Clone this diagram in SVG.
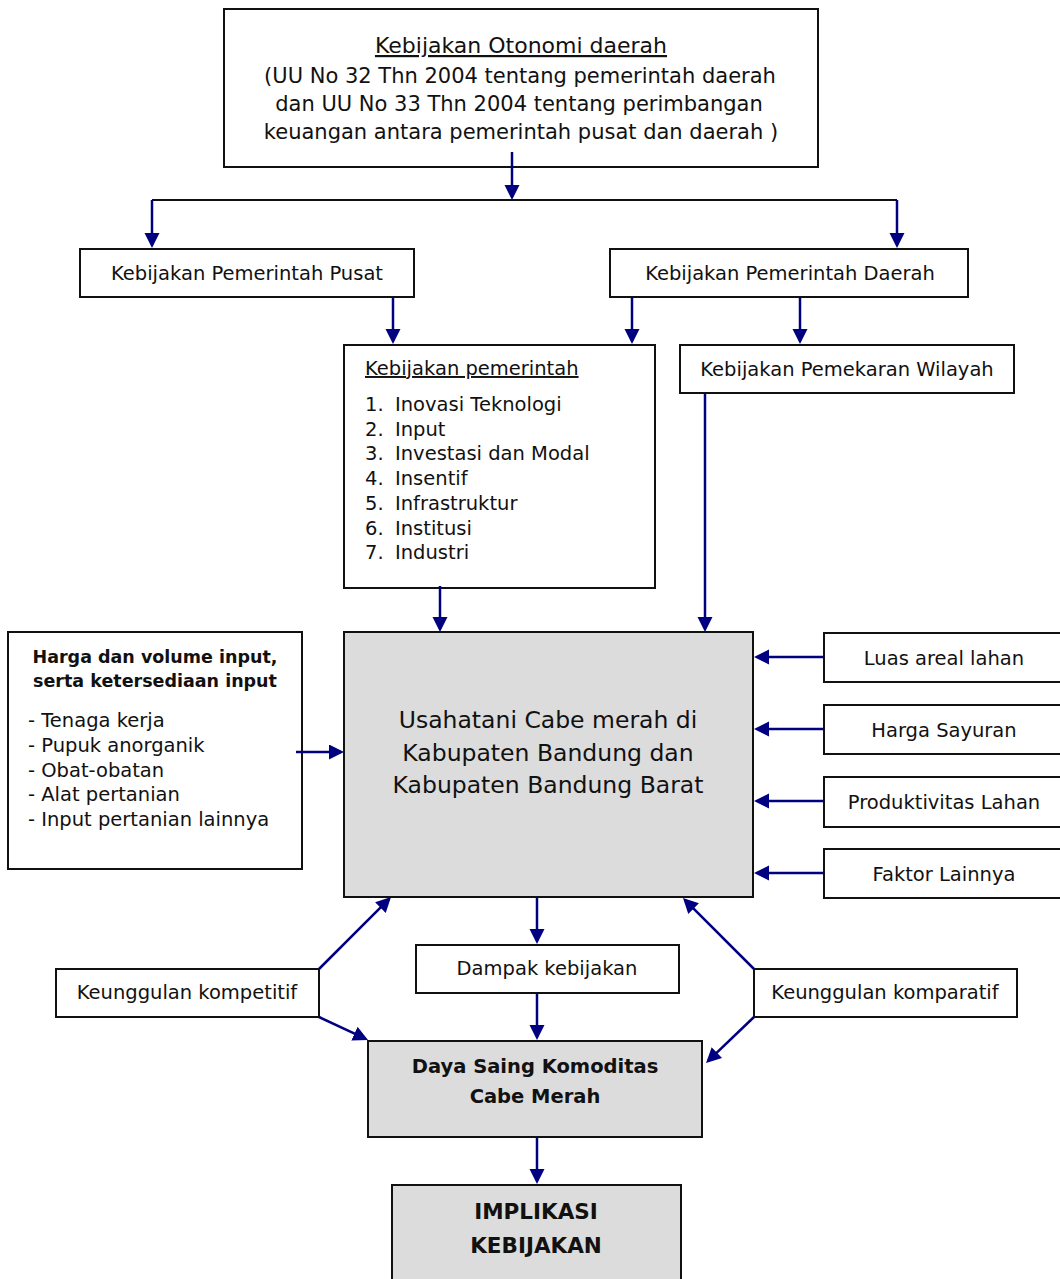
<svg xmlns="http://www.w3.org/2000/svg" width="1060" height="1279" viewBox="0 0 1060 1279">
<style>
.box{fill:#ffffff;stroke:#111;stroke-width:2}
.gbox{fill:#dcdcdc;stroke:#111;stroke-width:2}
.t{font-family:"DejaVu Sans","Liberation Sans",sans-serif;font-size:19.5px;fill:#111}
.c{text-anchor:middle}
.b{font-weight:bold}
.u{text-decoration:underline}
.arr{stroke:#000080;stroke-width:2.5;fill:none;marker-end:url(#ah)}
.bar{stroke:#111;stroke-width:2;fill:none}
</style>
<defs>
<marker id="ah" markerUnits="userSpaceOnUse" markerWidth="16" markerHeight="16" refX="12" refY="7.5" orient="auto">
<path d="M0,0 L15,7.5 L0,15 z" fill="#000080"/>
</marker>
</defs>
<rect width="1060" height="1279" fill="#ffffff"/>

<g id="otonomi">
<rect class="box" x="224" y="9" width="594" height="158"/>
<text class="t c u" x="521" y="53" style="font-size:22px">Kebijakan Otonomi daerah</text>
<text class="t c" x="520" y="83" style="font-size:21px">(UU No 32 Thn 2004 tentang pemerintah daerah</text>
<text class="t c" x="519" y="111" style="font-size:21px">dan UU No 33 Thn 2004 tentang perimbangan</text>
<text class="t c" x="521" y="139" style="font-size:21px">keuangan antara pemerintah pusat dan daerah )</text>
</g>

<g id="pusat">
<rect class="box" x="80" y="249" width="334" height="48"/>
<text class="t c" x="247" y="280">Kebijakan Pemerintah Pusat</text>
</g>

<g id="daerah">
<rect class="box" x="610" y="249" width="358" height="48"/>
<text class="t c" x="790" y="280">Kebijakan Pemerintah Daerah</text>
</g>

<g id="kebijakan-pemerintah">
<rect class="box" x="344" y="345" width="311" height="243"/>
<text class="t u" x="365" y="375">Kebijakan pemerintah</text>
<text class="t" x="365" y="411">1.</text><text class="t" x="395" y="411">Inovasi Teknologi</text>
<text class="t" x="365" y="436">2.</text><text class="t" x="395" y="436">Input</text>
<text class="t" x="365" y="460">3.</text><text class="t" x="395" y="460">Investasi dan Modal</text>
<text class="t" x="365" y="485">4.</text><text class="t" x="395" y="485">Insentif</text>
<text class="t" x="365" y="510">5.</text><text class="t" x="395" y="510">Infrastruktur</text>
<text class="t" x="365" y="535">6.</text><text class="t" x="395" y="535">Institusi</text>
<text class="t" x="365" y="559">7.</text><text class="t" x="395" y="559">Industri</text>
</g>

<g id="pemekaran">
<rect class="box" x="680" y="345" width="334" height="48"/>
<text class="t c" x="847" y="376">Kebijakan Pemekaran Wilayah</text>
</g>

<g id="input">
<rect class="box" x="8" y="632" width="294" height="237"/>
<text class="t c b" x="155" y="663" style="font-size:17.5px">Harga dan volume input,</text>
<text class="t c b" x="155" y="687" style="font-size:17.5px">serta ketersediaan input</text>
<text class="t" x="28" y="727">- Tenaga kerja</text>
<text class="t" x="28" y="752">- Pupuk anorganik</text>
<text class="t" x="28" y="777">- Obat-obatan</text>
<text class="t" x="28" y="801">- Alat pertanian</text>
<text class="t" x="28" y="826">- Input pertanian lainnya</text>
</g>

<g id="usahatani">
<rect class="gbox" x="344" y="632" width="409" height="265"/>
<text class="t c" x="548" y="728" style="font-size:23.5px">Usahatani Cabe merah di</text>
<text class="t c" x="548" y="761" style="font-size:23.5px">Kabupaten Bandung dan</text>
<text class="t c" x="548" y="793" style="font-size:23.5px">Kabupaten Bandung Barat</text>
</g>

<g id="luas">
<rect class="box" x="824" y="633" width="242" height="49"/>
<text class="t c" x="944" y="665">Luas areal lahan</text>
</g>
<g id="harga-sayuran">
<rect class="box" x="824" y="705" width="242" height="49"/>
<text class="t c" x="944" y="737">Harga Sayuran</text>
</g>
<g id="produktivitas">
<rect class="box" x="824" y="777" width="242" height="50"/>
<text class="t c" x="944" y="809">Produktivitas Lahan</text>
</g>
<g id="faktor">
<rect class="box" x="824" y="849" width="242" height="49"/>
<text class="t c" x="944" y="881">Faktor Lainnya</text>
</g>

<g id="dampak">
<rect class="box" x="416" y="945" width="263" height="48"/>
<text class="t c" x="547" y="975">Dampak kebijakan</text>
</g>

<g id="kompetitif">
<rect class="box" x="56" y="969" width="263" height="48"/>
<text class="t c" x="187" y="999">Keunggulan kompetitif</text>
</g>

<g id="komparatif">
<rect class="box" x="754" y="969" width="263" height="48"/>
<text class="t c" x="885" y="999">Keunggulan komparatif</text>
</g>

<g id="daya-saing">
<rect class="gbox" x="368" y="1041" width="334" height="96"/>
<text class="t c b" x="535" y="1073" style="font-size:19.5px">Daya Saing Komoditas</text>
<text class="t c b" x="535" y="1103" style="font-size:19.5px">Cabe Merah</text>
</g>

<g id="implikasi">
<rect class="gbox" x="392" y="1185" width="289" height="100"/>
<text class="t c b" x="536" y="1219" style="font-size:21.5px">IMPLIKASI</text>
<text class="t c b" x="536" y="1253" style="font-size:21.5px">KEBIJAKAN</text>
</g>

<g id="connectors">
<path class="bar" d="M152,200 H897"/>
<path class="arr" d="M512,152 V197"/>
<path class="arr" d="M152,200 V245"/>
<path class="arr" d="M897,200 V245"/>
<path class="arr" d="M393,297 V341"/>
<path class="arr" d="M632,297 V341"/>
<path class="arr" d="M800,297 V341"/>
<path class="arr" d="M705,393 V629"/>
<path class="arr" d="M440,586 V629"/>
<path class="arr" d="M296,752 H341"/>
<path class="arr" d="M824,657 H757"/>
<path class="arr" d="M824,729 H757"/>
<path class="arr" d="M824,801 H757"/>
<path class="arr" d="M824,873 H757"/>
<path class="arr" d="M537,897 V941"/>
<path class="arr" d="M537,993 V1037"/>
<path class="arr" d="M537,1137 V1181"/>
<path class="arr" d="M319,969 L388.9,899.1"/>
<path class="arr" d="M319,1017 L365.3,1038.7"/>
<path class="arr" d="M754,969 L685.1,900.1"/>
<path class="arr" d="M754,1017 L708.2,1060.9"/>
</g>
</svg>
